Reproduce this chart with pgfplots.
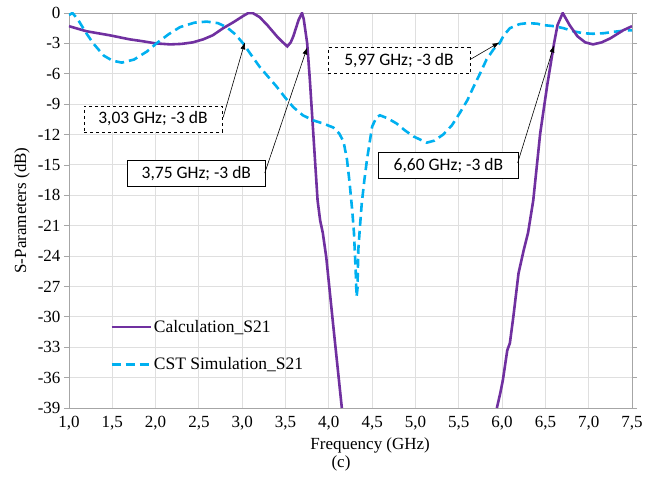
\documentclass[border=0pt]{standalone}
\usepackage{fontspec}
\setmainfont{Liberation Serif}
\newfontfamily\calfont{Carlito}
\usepackage{pgfplots}
\pgfplotsset{compat=1.18}
\usetikzlibrary{arrows.meta}
\definecolor{calc}{HTML}{7030A0}
\definecolor{cst}{HTML}{00B0F0}
\begin{document}
\begin{tikzpicture}[x=1pt,y=1pt]
\begin{axis}[
 at={(0,0)}, anchor=south west,
 scale only axis, width=563pt, height=395pt,
 xmin=1, xmax=7.5, ymin=-39, ymax=0,
 xtick={1,1.5,2,2.5,3,3.5,4,4.5,5,5.5,6,6.5,7,7.5},
 ytick={-39,-36,-33,-30,-27,-24,-21,-18,-15,-12,-9,-6,-3,0},
 /pgf/number format/assume math mode=true,
 xticklabel style={/pgf/number format/.cd, fixed, fixed zerofill, precision=1, use comma},
 tick label style={font=\fontsize{17}{20}\selectfont},
 tick align=outside, major tick length=5pt,
 xtick style={draw=none},
 ytick style={draw=gray!70, line width=0.8pt},
 axis line style={draw=gray!70, line width=0.8pt},
 grid=major, major grid style={draw=gray!25, line width=0.9pt},
 xlabel={Frequency (GHz)},
 xlabel style={at={(axis description cs:0.535,0)}, anchor=center, yshift=-37pt, font=\fontsize{17}{20}\selectfont},
 ylabel={S-Parameters (dB)},
 ylabel style={at={(axis description cs:-0.0835,0.5)}, anchor=center, font=\fontsize{17}{20}\selectfont},
 legend style={at={(0.073,0.228)}, anchor=north west, draw=none, fill=none,
   font=\fontsize{17.5}{20}\selectfont, row sep=20pt, inner sep=0pt},
 legend cell align=left,
 legend image code/.code={\draw[#1] (0pt,0pt) -- (39pt,0pt);},
]
\addplot[color=calc, line width=2.6pt] coordinates {
(1.00,-1.3) (1.20,-1.8) (1.47,-2.2) (1.70,-2.6) (1.86,-2.8) (2.00,-3.0) (2.17,-3.1)
(2.30,-3.05) (2.43,-2.9) (2.55,-2.6) (2.66,-2.2) (2.78,-1.5) (2.90,-0.9) (3.01,-0.3)
(3.07,0) (3.12,0) (3.20,-0.4) (3.29,-1.2) (3.40,-2.3) (3.47,-2.9) (3.52,-3.3)
(3.56,-2.9) (3.59,-2.3) (3.65,-0.7) (3.69,0) (3.71,-0.6) (3.75,-3.0) (3.78,-6.5)
(3.81,-10.5) (3.84,-14.5) (3.87,-18.5) (3.90,-20.5) (3.93,-21.7) (3.97,-24.1)
(4.05,-30.8) (4.15,-39)
};
\addlegendentry{Calculation\_S21}
\addplot[color=cst, line width=2.6pt, dash pattern=on 9pt off 5pt] coordinates {
(1.00,-0.2) (1.04,0) (1.10,-0.6) (1.20,-2.0) (1.28,-3.0) (1.40,-4.2) (1.50,-4.7)
(1.61,-4.9) (1.75,-4.6) (1.90,-3.8) (2.01,-3.0) (2.15,-2.1) (2.28,-1.4) (2.45,-0.95)
(2.59,-0.85) (2.72,-1.0) (2.82,-1.4) (2.92,-2.1) (3.01,-3.0) (3.10,-4.1) (3.20,-5.3)
(3.30,-6.3) (3.40,-7.3) (3.50,-8.4) (3.59,-9.3) (3.70,-10.1) (3.82,-10.6) (3.93,-10.9)
(4.05,-11.3) (4.12,-11.9) (4.17,-12.7) (4.21,-14.5) (4.24,-16.8) (4.27,-19.5)
(4.29,-21.7) (4.31,-25.5) (4.32,-28.0) (4.33,-27.3) (4.34,-23.4) (4.36,-21.0)
(4.38,-18.8) (4.41,-16.5) (4.44,-14.5) (4.50,-11.2) (4.55,-10.3) (4.59,-10.1)
(4.68,-10.4) (4.78,-10.9) (4.88,-11.6) (4.98,-12.2) (5.13,-12.8) (5.22,-12.6)
(5.32,-12.0) (5.42,-11.1) (5.51,-9.9) (5.60,-8.6) (5.67,-7.3) (5.75,-5.9) (5.82,-4.6)
(5.90,-3.6) (5.97,-3.0) (6.02,-2.2) (6.09,-1.5) (6.20,-1.1) (6.29,-1.0) (6.40,-1.05)
(6.48,-1.2) (6.60,-1.3) (6.71,-1.5) (6.82,-1.8) (6.94,-2.0) (7.05,-2.05) (7.17,-2.0)
(7.30,-1.85) (7.40,-1.75) (7.50,-1.7)
};
\addlegendentry{CST Simulation\_S21}
\addplot[color=calc, line width=2.6pt, forget plot] coordinates {
(5.94,-39) (5.98,-37.5) (6.01,-36.2) (6.06,-33.3) (6.09,-32.6) (6.13,-30.0) (6.19,-25.7)
(6.25,-23.4) (6.30,-21.7) (6.36,-18.5) (6.44,-11.9) (6.52,-7.2) (6.60,-3.0) (6.64,-1.2)
(6.70,0) (6.78,-1.2) (6.87,-2.3) (6.96,-2.9) (7.05,-3.1) (7.15,-2.9) (7.25,-2.5)
(7.40,-1.7) (7.50,-1.3)
};
\begin{scope}[every node/.style={fill=white, font=\calfont\fontsize{17.5}{20}\selectfont, inner sep=0pt, minimum height=26pt}]
\node[draw=black, dashed, minimum width=138pt] at (axis cs:1.97,-10.46) {3,03 GHz; -3 dB};
\node[draw=black, minimum width=138pt] at (axis cs:2.47,-15.84) {3,75 GHz; -3 dB};
\node[draw=black, dashed, minimum width=142pt] at (axis cs:4.81,-4.69) {5,97 GHz; -3 dB};
\node[draw=black, minimum width=140pt] at (axis cs:5.38,-15.05) {6,60 GHz; -3 dB};
\end{scope}
\draw[-{Latex[length=7pt,width=5pt]}, line width=0.6pt] (axis cs:2.78,-10.3) -- (axis cs:3.03,-2.9);
\draw[-{Latex[length=7pt,width=5pt]}, line width=0.6pt] (axis cs:3.26,-15.8) -- (axis cs:3.75,-3.4);
\draw[-{Latex[length=7pt,width=5pt]}, line width=0.6pt] (axis cs:5.63,-4.6) -- (axis cs:5.97,-2.9);
\draw[-{Latex[length=7pt,width=5pt]}, line width=0.6pt] (axis cs:6.18,-14.8) -- (axis cs:6.60,-3.2);
\end{axis}
\node[font=\fontsize{17}{20}\selectfont] at (272pt,-55pt) {(c)};
\pgfresetboundingbox
\path (-69pt,-72pt) rectangle (577pt,408pt);
\end{tikzpicture}
\end{document}
